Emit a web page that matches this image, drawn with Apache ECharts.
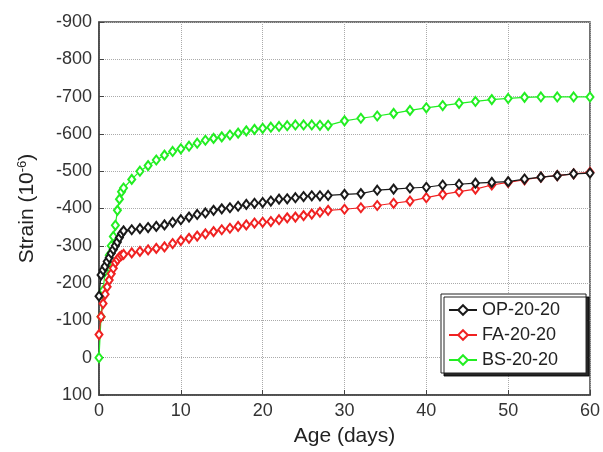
<!DOCTYPE html>
<html>
<head>
<meta charset="utf-8">
<script src="https://cdn.jsdelivr.net/npm/echarts@6/dist/echarts.min.js"></script>
<style>
html,body{margin:0;padding:0;background:#fff;}
#chart{width:603px;height:452px;}
</style>
</head>
<body>
<div id="chart"></div>
<script>
// Age in days (x values shared by all series)
var ages = [0, 0.25, 0.5, 0.75, 1, 1.25, 1.5, 1.75, 2, 2.25, 2.5, 2.75, 3,
  4, 5, 6, 7, 8, 9, 10, 11, 12, 13, 14, 15, 16, 17, 18, 19, 20, 21, 22, 23, 24, 25, 26, 27, 28,
  30, 32, 34, 36, 38, 40, 42, 44, 46, 48, 50, 52, 54, 56, 58, 60];

var seriesNames = ['OP-20-20', 'FA-20-20', 'BS-20-20'];

var opStrain = [-165, -222, -235, -245, -258, -268, -280, -290, -300, -310, -322, -333, -340,
  -343, -346, -349, -352, -356, -363, -370, -377, -384, -388, -395, -399, -402, -406, -411, -414, -416, -420, -425, -426, -429, -432, -434, -434, -435,
  -438, -440, -449, -452, -455, -457, -463, -465, -468, -470, -472, -479, -484, -488, -493, -495];

var faStrain = [-62, -110, -145, -170, -190, -208, -225, -240, -255, -263, -270, -274, -277,
  -281, -285, -289, -293, -297, -306, -314, -320, -326, -332, -338, -343, -347, -352, -356, -361, -363, -365, -370, -375, -377, -381, -385, -390, -395,
  -398, -402, -408, -414, -420, -429, -438, -445, -452, -463, -470, -477, -484, -488, -493, -497];

var bsStrain = [0, -110, -180, -232, -250, -275, -300, -325, -355, -395, -425, -445, -455,
  -478, -500, -515, -530, -543, -553, -560, -567, -575, -583, -588, -592, -597, -602, -608, -612, -615, -618, -620, -622, -624, -624, -624, -623, -623,
  -635, -642, -648, -655, -663, -670, -676, -682, -687, -692, -695, -698, -699, -699, -699, -699];

var xTicks = [0, 10, 20, 30, 40, 50, 60];
var yTicks = [-900, -800, -700, -600, -500, -400, -300, -200, -100, 0, 100];

var colors = ['#1a1a1a', '#f02222', '#22ee22'];

function pairs(xs, ys) {
  var out = [];
  for (var i = 0; i < xs.length; i++) out.push([xs[i], ys[i]]);
  return out;
}

var allValues = [opStrain, faStrain, bsStrain];
var series = seriesNames.map(function (name, i) {
  return {
    name: name,
    type: 'line',
    data: pairs(ages, allValues[i]),
    symbol: 'emptyDiamond',
    symbolSize: [7, 9],
    showAllSymbol: true,
    color: colors[i],
    lineStyle: { width: 1.2, color: colors[i] },
    itemStyle: { color: colors[i], borderColor: colors[i], borderWidth: 1 },
    z: 3 - i
  };
});

var chart = echarts.init(document.getElementById('chart'), null, { renderer: 'canvas' });
chart.setOption({
  backgroundColor: '#ffffff',
  animation: false,
  textStyle: { fontFamily: 'Liberation Sans, Arial, sans-serif' },
  grid: {
    left: 99, right: 10, top: 22, bottom: 57,
    show: true, borderColor: '#444', borderWidth: 1.5, backgroundColor: 'transparent'
  },
  legend: {
    orient: 'vertical',
    left: 441, top: 294,
    data: seriesNames,
    itemWidth: 28, itemHeight: 12, itemGap: 7,
    padding: [7, 26, 4, 7],
    backgroundColor: '#fff',
    borderColor: '#222', borderWidth: 1,
    shadowColor: 'rgba(0,0,0,0.85)', shadowBlur: 0, shadowOffsetX: 3, shadowOffsetY: 3,
    textStyle: { fontSize: 18, color: '#222', fontFamily: 'Liberation Sans, Arial, sans-serif' }
  },
  xAxis: {
    type: 'value',
    min: xTicks[0], max: xTicks[xTicks.length - 1], interval: xTicks[1] - xTicks[0],
    name: 'Age (days)', nameLocation: 'middle', nameGap: 31,
    nameTextStyle: { fontSize: 21, color: '#222' },
    axisLine: { show: true, onZero: false, lineStyle: { color: '#444', width: 1.5 } },
    axisTick: { show: true, inside: true, length: 5, lineStyle: { color: '#444' } },
    axisLabel: { fontSize: 18, color: '#333', margin: 7 },
    splitLine: { show: true, lineStyle: { color: '#aaa', type: 'dotted', width: 1 } }
  },
  yAxis: {
    type: 'value',
    inverse: true,
    min: yTicks[0], max: yTicks[yTicks.length - 1], interval: yTicks[1] - yTicks[0],
    name: 'Strain (10{sup|-6})', nameLocation: 'middle', nameGap: 60, nameRotate: 90,
    nameTextStyle: {
      fontSize: 21, color: '#222',
      rich: { sup: { fontSize: 13, color: '#222', verticalAlign: 'top', padding: [0, 0, 10, 0] } }
    },
    axisLine: { show: true, onZero: false, lineStyle: { color: '#444', width: 1.5 } },
    axisTick: { show: true, inside: true, length: 5, lineStyle: { color: '#444' } },
    axisLabel: { fontSize: 18, color: '#333', margin: 7 },
    splitLine: { show: true, lineStyle: { color: '#aaa', type: 'dotted', width: 1 } }
  },
  series: series
});
</script>
</body>
</html>
